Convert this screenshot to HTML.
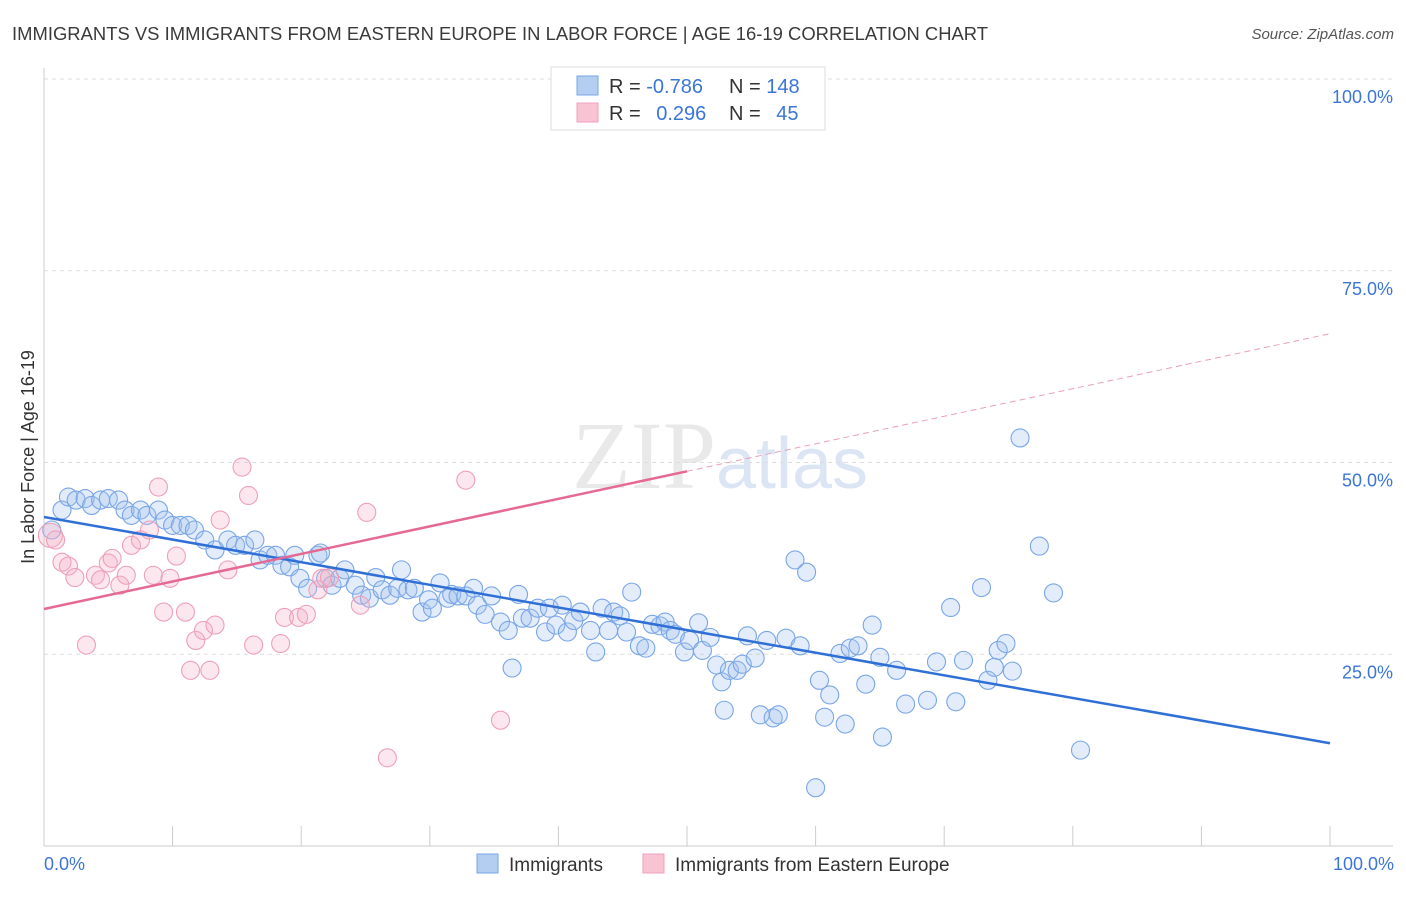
<!DOCTYPE html>
<html><head><meta charset="utf-8"><style>
body{margin:0;background:#fff;font-family:"Liberation Sans",sans-serif;}
svg text{font-family:"Liberation Sans",sans-serif;}
</style></head><body>
<svg id="chart" width="1406" height="892" xmlns="http://www.w3.org/2000/svg">
<text x="12" y="40" font-size="18.4" fill="#3a3a3a" textLength="976">IMMIGRANTS VS IMMIGRANTS FROM EASTERN EUROPE IN LABOR FORCE | AGE 16-19 CORRELATION CHART</text>
<text x="1394" y="39" font-size="15" fill="#555" font-style="italic" text-anchor="end">Source: ZipAtlas.com</text>
<text x="720" y="488" font-size="96" fill="#d4d4d4" text-anchor="middle" font-family="Liberation Serif" opacity="0.5"><tspan font-family="Liberation Serif">ZIP</tspan><tspan fill="#b8cde8" font-family="Liberation Sans" font-size="72">atlas</tspan></text>
<g id="grid"></g>
<g id="axes"></g>
<g id="marks"></g>
<text transform="translate(34,457) rotate(-90)" font-size="18" fill="#333" text-anchor="middle">In Labor Force | Age 16-19</text>
<text x="44" y="870" font-size="18" fill="#3b76d6">0.0%</text>
<text x="1394" y="870" font-size="18" fill="#3b76d6" text-anchor="end">100.0%</text>
<g>
<rect x="551" y="67" width="274" height="63" fill="#fff" stroke="#ddd"/>
<rect x="577" y="76" width="21" height="19" fill="#b4cef2" stroke="#7aa6e6"/>
<rect x="577" y="103" width="21" height="19" fill="#f8c4d3" stroke="#eea0b8"/>
<text x="609" y="93" font-size="20" fill="#333">R = <tspan fill="#3b76d6">-0.786</tspan></text>
<text x="729" y="93" font-size="20" fill="#333">N = <tspan fill="#3b76d6">148</tspan></text>
<text x="609" y="120" font-size="20" fill="#333">R = <tspan fill="#3b76d6" dx="10">0.296</tspan></text>
<text x="729" y="120" font-size="20" fill="#333">N = <tspan fill="#3b76d6" dx="10">45</tspan></text>
</g>
<g>
<rect x="477" y="854" width="21" height="19" fill="#b4cef2" stroke="#7aa6e6"/>
<text x="509" y="871" font-size="19" fill="#333">Immigrants</text>
<rect x="643" y="854" width="21" height="19" fill="#f8c4d3" stroke="#eea0b8"/>
<text x="675" y="871" font-size="19" fill="#333">Immigrants from Eastern Europe</text>
</g>
</svg>
<script>
const blueX=[0.6,1.4,1.9,2.5,3.2,3.7,4.4,5.0,5.8,6.3,6.8,7.5,8.0,8.9,9.4,10.0,10.6,11.2,11.7,12.5,13.3,14.3,14.9,15.6,16.4,16.8,17.4,18.0,18.5,19.1,19.5,19.9,20.5,21.3,21.5,21.9,22.4,23.0,23.4,24.2,24.7,25.3,25.8,26.3,26.9,27.5,27.8,28.3,28.8,29.4,29.9,30.2,30.8,31.4,31.7,32.2,32.8,33.4,33.7,34.3,34.8,35.5,36.1,36.4,36.9,37.2,37.8,38.4,39.0,39.3,39.8,40.3,40.7,41.2,41.7,42.5,42.9,43.4,43.9,44.3,44.8,45.3,45.7,46.3,46.8,47.3,47.9,48.3,48.7,49.1,49.8,50.2,50.9,51.2,51.8,52.3,52.7,52.9,53.3,53.9,54.3,54.7,55.3,55.7,56.2,56.7,57.1,57.7,58.4,58.8,59.3,60.0,60.3,60.7,61.1,61.9,62.3,62.7,63.3,63.9,64.4,65.0,65.2,66.3,67.0,69.4,68.7,70.5,70.9,71.5,72.9,73.4,73.9,74.2,74.8,75.3,75.9,77.4,78.5,80.6];
const blueY=[41.2,43.8,45.5,45.1,45.3,44.4,45.1,45.3,45.1,43.8,43.1,43.8,43.1,43.8,42.5,41.8,41.8,41.8,41.2,39.9,38.6,39.9,39.2,39.2,39.9,37.3,37.9,37.9,36.6,36.4,37.9,34.9,33.6,37.9,38.2,34.9,34.0,34.9,36.0,34.0,32.7,32.3,35.0,33.4,32.7,33.6,36.0,33.4,33.6,30.5,32.1,31.0,34.3,32.3,32.8,32.6,32.6,33.6,31.4,30.2,32.6,29.2,28.1,23.2,32.8,29.7,29.7,31.0,27.9,31.0,28.8,31.4,27.9,29.4,30.5,28.1,25.3,31.0,28.1,30.5,30.0,27.9,33.1,26.1,25.8,28.9,28.7,29.2,28.1,27.6,25.3,26.8,29.1,25.5,27.2,23.6,21.4,17.7,22.9,22.9,23.7,27.4,24.5,17.1,26.8,16.7,17.1,27.1,37.3,26.1,35.7,7.6,21.6,16.8,19.7,25.1,15.9,25.8,26.1,21.1,28.8,24.6,14.2,22.9,18.5,24.0,19.0,31.1,18.8,24.2,33.7,21.6,23.3,25.5,26.4,22.8,53.2,39.1,33.0,12.5];
const pinkX=[0.5,0.9,1.4,1.9,2.4,3.3,4.0,4.4,5.0,5.3,5.9,6.4,6.8,7.5,8.2,8.5,8.9,9.3,9.8,10.3,11.0,11.4,11.8,12.4,12.9,13.3,13.7,14.3,15.4,15.9,16.3,18.4,18.7,19.8,20.4,21.3,21.6,22.2,24.6,25.1,26.7,32.8,35.5];
const pinkY=[40.5,39.9,37.0,36.5,35.0,26.2,35.3,34.7,36.9,37.5,34.0,35.3,39.2,39.9,41.2,35.3,46.8,30.5,34.9,37.8,30.5,22.9,26.8,28.1,22.9,28.8,42.5,36.0,49.4,45.7,26.2,26.4,29.8,29.8,30.2,33.4,34.9,35.0,31.4,43.5,11.5,47.7,16.4];
const blueTrend=[42.9,13.4];
const pinkTrend=[30.9,66.8];
const yTicks=[25,50,75,100];
const yTickLabels=["25.0%","50.0%","75.0%","100.0%"];
const xTicks=[0,10,20,30,40,50,60,70,80,90,100];

const NS="http://www.w3.org/2000/svg";
const X0=44,X1=1330,Y0=846,Y100=79;
const sx=v=>X0+(X1-X0)*v/100;
const sy=v=>Y0-(Y0-Y100)*v/100;
function mk(tag,attrs,parent){const e=document.createElementNS(NS,tag);for(const k in attrs)e.setAttribute(k,attrs[k]);parent.appendChild(e);return e;}
const grid=document.getElementById('grid'),axes=document.getElementById('axes'),marks=document.getElementById('marks');
yTicks.forEach((t,i)=>{
  const l=mk('line',{x1:X0,x2:1393,y1:sy(t),y2:sy(t),stroke:'#ddd','stroke-dasharray':'4,4'},grid);
  
  
  const tx=mk('text',{x:1393,y:sy(t)+24,'font-size':18,fill:'#3b76d6','text-anchor':'end'},axes);
  tx.textContent=yTickLabels[i];
  
  
});
const ya=mk('line',{x1:X0,x2:X0,y1:68,y2:Y0,stroke:'#ccc'},axes);


const xa=mk('line',{x1:X0,x2:1393,y1:Y0,y2:Y0,stroke:'#ccc'},axes);


xTicks.forEach(t=>{
  const l=mk('line',{x1:sx(t),x2:sx(t),y1:826,y2:Y0,stroke:'#ccc'},axes);
  
  
});
blueX.forEach((v,i)=>{
  const c=mk('circle',{cx:sx(v),cy:sy(blueY[i]),r:9,fill:'rgba(160,192,238,0.3)',stroke:'#7aa6e6','stroke-width':1.1},marks);
  
  
});
pinkX.forEach((v,i)=>{
  const c=mk('circle',{cx:sx(v),cy:sy(pinkY[i]),r:i===0?12:9,fill:'rgba(245,175,198,0.3)',stroke:'#eea0b8','stroke-width':1.1},marks);
  
  
});
const bt=mk('line',{x1:sx(0),y1:sy(blueTrend[0]),x2:sx(100),y2:sy(blueTrend[1]),stroke:'#2f6fd6','stroke-width':2.5},marks);


const pm=50, pmy=pinkTrend[0]+(pinkTrend[1]-pinkTrend[0])*pm/100;
const pt=mk('line',{x1:sx(0),y1:sy(pinkTrend[0]),x2:sx(pm),y2:sy(pmy),stroke:'#e56a93','stroke-width':2.5},marks);


const pd=mk('line',{x1:sx(pm),y1:sy(pmy),x2:sx(100),y2:sy(pinkTrend[1]),stroke:'#e8a0b8','stroke-width':1,'stroke-dasharray':'6,4'},marks);


</script>
</body></html>
